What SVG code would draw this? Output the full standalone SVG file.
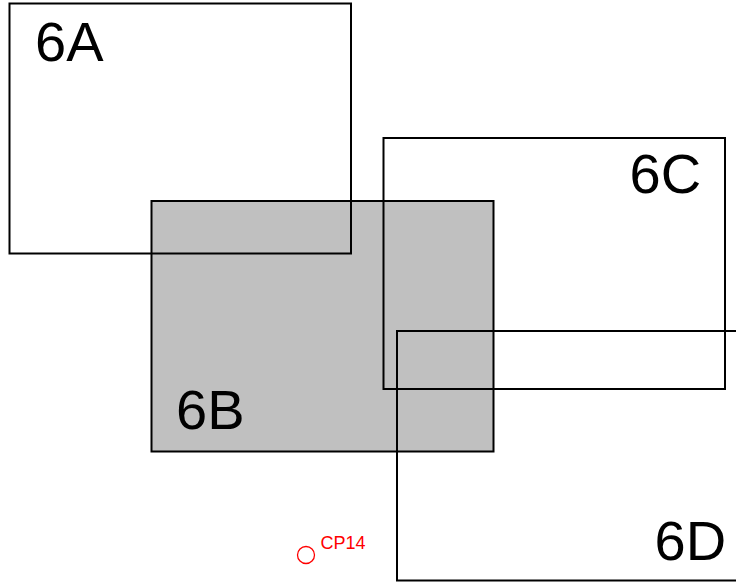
<svg xmlns="http://www.w3.org/2000/svg" width="736" height="582" viewBox="0 0 736 582">
  <style>
    .box { fill: none; stroke: #000; stroke-width: 2; }
    .shaded { fill: #c0c0c0; stroke: #000; stroke-width: 2; }
    .lbl { font-family: "Liberation Sans", Arial, sans-serif; font-size: 56px; fill: #000; }
    .cp { fill: none; stroke: #ff0000; stroke-width: 1.3; }
    .cplbl { font-family: "Liberation Sans", Arial, sans-serif; font-size: 18px; fill: #ff0000; }
  </style>
  <rect x="0" y="0" width="736" height="582" fill="#fff"/>
  <g id="node-6B">
    <rect class="shaded" x="151.5" y="201" width="342" height="250.5"/>
    <text class="lbl" x="176" y="429">6B</text>
  </g>
  <g id="node-6A">
    <rect class="box" x="9.5" y="3.5" width="341.5" height="250"/>
    <text class="lbl" x="35" y="61">6A</text>
  </g>
  <g id="node-6C">
    <rect class="box" x="383.5" y="138" width="341.5" height="251"/>
    <text class="lbl" x="629.5" y="193">6C</text>
  </g>
  <g id="node-6D">
    <rect class="box" x="397" y="331" width="345" height="249.5"/>
    <text class="lbl" x="654.5" y="560">6D</text>
  </g>
  <g id="node-CP14">
    <circle class="cp" cx="306" cy="555" r="8.5"/>
    <text class="cplbl" x="320.5" y="549">CP14</text>
  </g>
  <g id="connectors"/>
</svg>
